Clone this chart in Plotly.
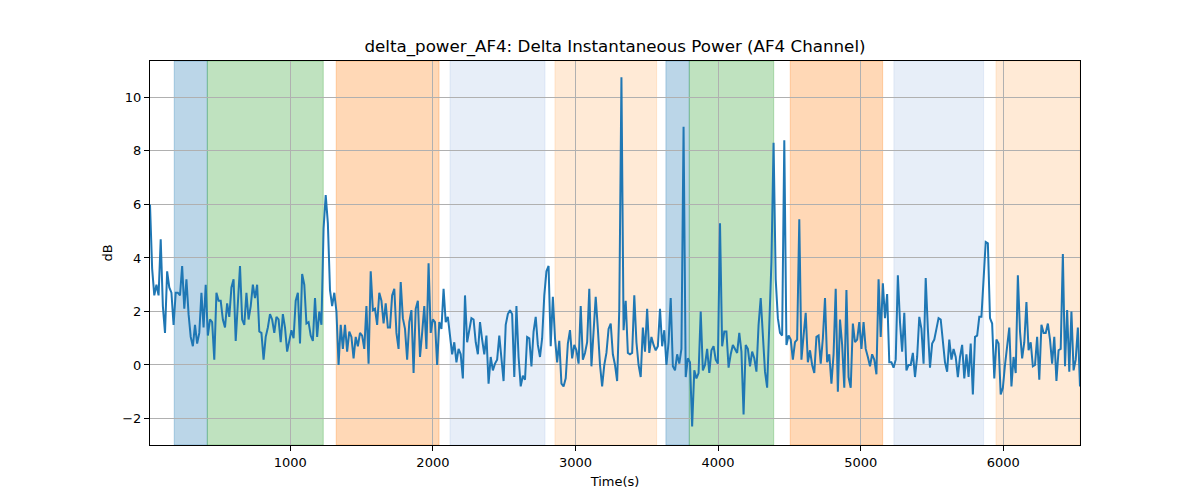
import numpy as np
import plotly.graph_objects as go

# ---- data ----
values = [
    # segment 1
    6.0, 3.6, 2.6, 3.0, 2.6, 4.7, 2.2, 1.2, 3.5, 2.9, 2.7, 1.5, 2.7, 2.7, 2.6, 3.7, 2.1, 3.2, 1.9, 1.05,
    0.7, 1.5, 0.8, 1.2, 2.7, 1.4, 3.0, 1.1, 1.7, 1.6, 0.2, 2.7, 2.4, 2.4, 1.7, 1.4, 2.3, 1.8, 2.9, 3.2,
    0.9, 2.3, 3.7,
    # segment 2
    1.7, 1.5, 2.7, 1.7, 2.2, 3.0, 2.5, 3.0, 1.25, 1.2, 0.2, 1.05, 1.4, 1.9, 1.7, 1.2, 1.8, 1.7, 0.85, 1.9,
    1.4, 0.5, 0.9, 1.3, 1.0, 2.4, 2.7, 0.8, 3.4, 3.0, 1.55, 1.6, 1.1, 0.9, 2.5, 1.05, 2.0, 1.5, 5.1, 6.35,
    5.3, 2.8, 2.2, 2.7,
    # segment 3
    2.0, 0.0, 1.5, 0.6, 1.5, 0.5, 1.25, 1.05, 0.25, 1.05, 0.7, 1.2, 1.1, 0.6, 2.2, 0.05, 3.5, 2.05, 2.1, 1.5,
    2.7, 2.4, 1.55, 2.3, 1.4, 1.4, 2.6, 2.85, 1.2, 0.6, 3.1, 1.75, 1.35, 0.2, 1.6, 2.05, -0.3, 2.1, 2.4, 0.3,
    1.2, 2.2, 0.6, 3.8,
    # segment 4
    1.2, 1.7, 1.6, 0.0, 1.6, 1.35, 2.85, 1.6, 1.8, 1.0, 0.4, 0.85, 0.1, 0.6, 0.4, -0.5, 2.6, 0.85, 1.35, 1.75,
    1.7, 0.85, 0.4, 1.6, 0.95, 0.4, 1.1, -0.7, 0.3, -0.2, 0.05, 0.2, 1.1, 0.3, -0.6, 1.5, 1.9, 2.05, 1.9, -0.45,
    2.2, 0.3, -0.8, -0.4, -0.55,
    # segment 5
    1.05, 1.0, -0.05, 1.25, 1.8, 0.75, 0.3, 1.0, 2.6, 3.5, 3.7, 0.7, 2.55, 1.0, 0.1, 0.9, -0.7, -0.8, -0.5, 0.8,
    1.3, 0.25, 0.75, 0.55, 0.05, 2.2, 0.2, 0.45, 0.85, 2.85, -0.05, 1.4, 2.55, 1.35, 0.0, -0.8, 0.0, 0.45, 1.35, 1.55,
    0.4, 0.0, -0.6, 2.1,
    # segment 6
    10.75, 1.3, 2.4, 0.45, 0.4, 0.45, 2.6, 0.85, 0.0, -0.45, 1.4, 0.5, 2.1, 0.45, 1.05, 0.75, 0.55, 0.7, 2.1, 0.7,
    1.3, 0.0, 0.85, 2.5, -0.05, -0.2, 0.4, 0.05, 0.6, 8.9, -0.45, 0.25, 0.1, -2.3, -0.2, -0.5, -0.3, 2.0, -0.2, 0.0,
    0.6, -0.3, 0.55, 0.7, 0.2,
    # segment 7
    0.05, 5.3, 0.7, 1.25, 1.25, -0.1, 0.4, 0.75, 0.6, 0.45, 1.2, 0.5, -1.85, 0.75, 0.6, -0.05, 0.5, 0.25, -0.25, 1.5,
    2.5, 1.0, -0.25, -0.85, 1.35, 3.85, 8.3, 3.2, 1.75, 1.2, 1.1, 8.4, 0.75, 1.1, 0.95, 0.2, 0.85, 0.95, 5.45, 0.2,
    1.1, 1.95, 0.1,
    # segment 8
    0.55, 0.0, -0.3, 1.05, 1.1, 0.05, 1.0, 2.5, 0.1, 0.4, -0.7, 0.4, 2.85, -1.0, 1.7, 0.75, -0.85, 2.8, -0.45, -0.85,
    1.55, 0.85, 0.95, 1.6, 0.6, 1.6, 0.6, 0.3, -0.05, 0.4, 0.2, -0.35, 3.2, 1.05, 3.05, 1.75, 2.65, 0.1, 0.1, -0.1,
    0.2, 3.35, 1.6, 0.5, 1.95,
    # segment 9
    -0.2, 0.0, 0.0, 0.45, -0.45, 0.3, 1.8, 1.35, 0.05, 3.25, 1.35, -0.1, 0.8, 0.95, 1.35, 1.75, 1.7, 0.85, 0.1, -0.25,
    0.95, 0.2, 0.6, 0.3, -0.45, 0.3, 0.75, -0.5, 0.4, -0.45, 0.8, -1.1, 1.05, 1.1, 1.8, 1.8, 3.35, 4.6, 4.55, 1.75,
    1.55,
    # segment 10
    -0.5, 0.95, 0.8, -1.1, -0.85, 0.0, 0.75, 1.4, -0.8, 0.3, -0.3, 3.35, 1.25, 0.25, 0.85, 2.35, 0.55, 0.85, -0.05, 0.0,
    1.05, -0.55, 1.5, 1.2, 1.2, 1.55, 0.95, 0.05, 1.05, -0.6, 0.55, 0.6, 4.15, -0.05, 2.05, -0.25, 2.0, -0.2, 0.2, 1.4,
    -0.8,
]
t_start = 16
t_end = 6538
times = np.linspace(t_start, t_end, len(values))

span_starts = [186, 418, 1322, 2120, 2856, 3634, 3798, 4506, 5233, 5949]
span_ends = [418, 1231, 2043, 2786, 3569, 3798, 4390, 5154, 5862, 6538]
span_colors = ["31,119,180", "44,160,44", "255,127,14", "174,199,232", "255,187,120",
               "31,119,180", "44,160,44", "255,127,14", "174,199,232", "255,187,120"]

x_ticks = [1000, 2000, 3000, 4000, 5000, 6000]
y_ticks = [-2, 0, 2, 4, 6, 8, 10]

fig = go.Figure()
fig.add_trace(go.Scatter(x=times, y=values, mode="lines",
                         line=dict(color="#1f77b4", width=2), showlegend=False))

for s, e, c in zip(span_starts, span_ends, span_colors):
    fig.add_shape(type="rect", xref="x", yref="paper", x0=s, x1=e, y0=0, y1=1,
                  fillcolor=f"rgba({c},0.3)", line=dict(color=f"rgba({c},0.3)", width=1),
                  layer="below")

# page body has an 8px margin; compensate so the plot area lands at 150..1080 x 61..445
off = 8
font = "DejaVu Sans"
fig.update_layout(
    width=1200, height=500,
    margin=dict(l=150 - off, r=1200 - (150 - off) - 930, t=61 - off, b=500 - (61 - off) - 384,
                autoexpand=False),
    plot_bgcolor="white", paper_bgcolor="white",
    font=dict(family=font, size=13, color="black"),
    title=dict(text="delta_power_AF4: Delta Instantaneous Power (AF4 Channel)",
               x=(615 - off) / 1200, xanchor="center", y=1 - (46 - off) / 500, yanchor="middle",
               yref="container", font=dict(family=font, size=16.7, color="black")),
)
fig.update_xaxes(range=[t_start, t_end], tickvals=x_ticks, ticks="outside", ticklen=5,
                 tickcolor="black", showline=True, linecolor="black", linewidth=1, mirror=True,
                 showgrid=True, gridcolor="#b0b0b0", gridwidth=1, zeroline=False,
                 tickfont=dict(size=13), automargin=False,
                 title=dict(text="Time(s)", font=dict(size=13), standoff=8))
fig.update_yaxes(range=[-2.99, 11.36], tickvals=y_ticks, ticks="outside", ticklen=5,
                 tickcolor="black", showline=True, linecolor="black", linewidth=1, mirror=True,
                 showgrid=True, gridcolor="#b0b0b0", gridwidth=1, zeroline=False,
                 tickfont=dict(size=13), automargin=False,
                 title=dict(text="dB", font=dict(size=13), standoff=6))

fig.write_html("out.html")
